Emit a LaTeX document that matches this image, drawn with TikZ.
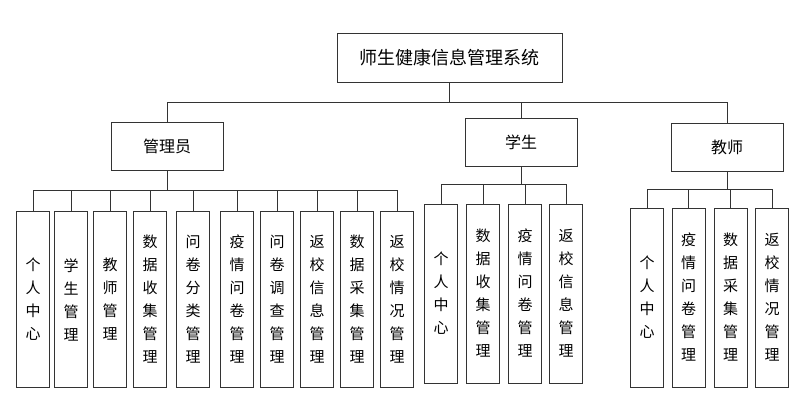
\documentclass[tikz,border=0pt]{standalone}
\usepackage{fontspec}
\newfontfamily\cjk{Noto Sans CJK SC}
\usetikzlibrary{positioning}

\begin{document}
\begin{tikzpicture}[x=1pt, y=-1pt,
    box/.style={draw=black!80, line width=0.8pt, inner sep=0pt, align=center},
    rolebox/.style={box, minimum width=112pt, minimum height=48pt, font=\cjk\fontsize{16}{18}\selectfont},
    funcbox/.style={box, minimum width=33pt, minimum height=176pt, font=\cjk\fontsize{15}{23}\selectfont},
    link/.style={draw=black!80, line width=0.8pt}
  ]
  \useasboundingbox (0,0) rectangle (808,417);

  % system
  \node[box, minimum width=225pt, minimum height=49pt, font=\cjk\fontsize{18}{20}\selectfont] (sys) at (449.5,57.5) {师生健康信息管理系统};

  % roles
  \node[rolebox] (adm) at (167,146.5) {管理员};
  \node[rolebox] (stu) at (521,142) {学生};
  \node[rolebox] (tea) at (727,147) {教师};

  \coordinate (topbus) at (0,102);
  \foreach \r in {adm,stu,tea}
    \draw[link] (sys.south) |- (\r.north |- topbus) -- (\r.north);

  % admin functions
  \coordinate (admbus) at (0,190);
  \foreach \x/\t [count=\i] in {33/{个\\人\\中\\心}, 71/{学\\生\\管\\理}, 110/{教\\师\\管\\理},
      150/{数\\据\\收\\集\\管\\理}, 193/{问\\卷\\分\\类\\管\\理}, 237/{疫\\情\\问\\卷\\管\\理},
      277/{问\\卷\\调\\查\\管\\理}, 317/{返\\校\\信\\息\\管\\理}, 357/{数\\据\\采\\集\\管\\理},
      397/{返\\校\\情\\况\\管\\理}} {
    \node[funcbox] (a\i) at (\x,299.5) {\t};
    \draw[link] (adm.south) |- (a\i.north |- admbus) -- (a\i.north);
  }

  % student functions
  \coordinate (stubus) at (0,184);
  \foreach \x/\t [count=\i] in {441/{个\\人\\中\\心}, 483/{数\\据\\收\\集\\管\\理},
      525/{疫\\情\\问\\卷\\管\\理}, 566/{返\\校\\信\\息\\管\\理}} {
    \node[funcbox, minimum height=179pt] (s\i) at (\x,293.5) {\t};
    \draw[link] (stu.south) |- (s\i.north |- stubus) -- (s\i.north);
  }

  % teacher functions
  \coordinate (teabus) at (0,189);
  \foreach \x/\t [count=\i] in {647/{个\\人\\中\\心}, 688.5/{疫\\情\\问\\卷\\管\\理},
      730.5/{数\\据\\采\\集\\管\\理}, 772/{返\\校\\情\\况\\管\\理}} {
    \node[funcbox, minimum height=179pt] (t\i) at (\x,297.5) {\t};
    \draw[link] (tea.south) |- (t\i.north |- teabus) -- (t\i.north);
  }
\end{tikzpicture}
\end{document}
